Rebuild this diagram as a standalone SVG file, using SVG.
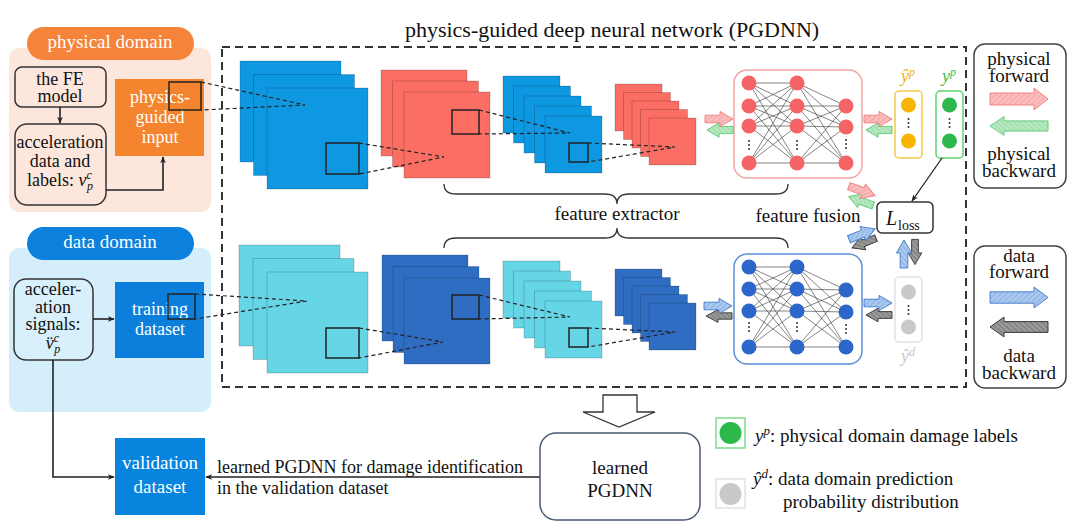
<svg xmlns="http://www.w3.org/2000/svg" width="1080" height="532" viewBox="0 0 1080 532">
<style>
text{font-family:"Liberation Serif","Times New Roman",serif;fill:#111}
.t18{font-size:18px}
.t19{font-size:19px}
.w{fill:#fff}
.mid{text-anchor:middle}
.it{font-style:italic}
.box{fill:#fde6dc;stroke:#333;stroke-width:1.5}
.dbox{fill:#d8f0fb;stroke:#333;stroke-width:1.5}
.sq{fill:none;stroke:#222;stroke-width:1.5}
.dash{stroke:#222;stroke-width:1.2;stroke-dasharray:4 3;fill:none}
.lb{stroke-opacity:0.18;stroke:#000;stroke-width:1}
.blue{fill:#0f98e2}
.red{fill:#fb6e64}
.cyan{fill:#66d6e7}
.dblue{fill:#2f6dc2}
.nnl{stroke:#333;stroke-width:0.6;fill:none}
.rn{fill:#f56464}
.bn{fill:#2b66c8}
.dot{fill:#333}
.ap{fill:url(#hp);stroke:#f08585;stroke-width:1}
.ag{fill:url(#hg);stroke:#5cc872;stroke-width:1}
.ab{fill:url(#hb);stroke:#4a7fd0;stroke-width:1}
.ak{fill:url(#hk);stroke:#333;stroke-width:1}
.conn{stroke:#222;stroke-width:1.6;fill:none}
.brace{stroke:#333;stroke-width:1.3;fill:none}
</style>
<defs>
<pattern id="hp" width="4" height="4" patternUnits="userSpaceOnUse" patternTransform="rotate(45)"><rect width="4" height="4" fill="#fabcbc"/><line x1="0" y1="0" x2="0" y2="4" stroke="#f39a9a" stroke-width="1.4"/></pattern>
<pattern id="hg" width="4" height="4" patternUnits="userSpaceOnUse" patternTransform="rotate(45)"><rect width="4" height="4" fill="#b5e8bf"/><line x1="0" y1="0" x2="0" y2="4" stroke="#8fd9a0" stroke-width="1.4"/></pattern>
<pattern id="hb" width="4" height="4" patternUnits="userSpaceOnUse" patternTransform="rotate(45)"><rect width="4" height="4" fill="#a9c8ee"/><line x1="0" y1="0" x2="0" y2="4" stroke="#7fa8e0" stroke-width="1.4"/></pattern>
<pattern id="hk" width="4" height="4" patternUnits="userSpaceOnUse" patternTransform="rotate(45)"><rect width="4" height="4" fill="#999"/><line x1="0" y1="0" x2="0" y2="4" stroke="#6a6a6a" stroke-width="1.4"/></pattern>
<path id="sa" d="M-14,-4 H1 V-8 L14,0 L1,8 V4 H-14 Z"/>
<path id="la" d="M-29,-6 H15 V-11 L29,0 L15,11 V6 H-29 Z"/>
<marker id="ah" viewBox="0 0 10 10" refX="9" refY="5" markerWidth="7" markerHeight="7" orient="auto-start-reverse" markerUnits="userSpaceOnUse"><path d="M0,1 L10,5 L0,9 L3,5 Z" fill="#222"/></marker>
</defs>

<!-- title -->
<text x="612" y="37" class="mid" font-size="22">physics-guided deep neural network (PGDNN)</text>

<!-- physical domain -->
<g id="physical-domain">
<rect x="9" y="48" width="202" height="164" rx="10" fill="#fde6dc"/>
<rect x="27" y="27" width="167" height="33" rx="16.5" fill="#f5843a"/>
<text x="110" y="48" class="mid w" font-size="19">physical domain</text>
</g>
<g id="fe-model">
<rect x="15" y="67" width="91" height="40" rx="7" class="box"/>
<text x="60" y="85" class="mid t18">the FE</text>
<text x="60" y="102" class="mid t18">model</text>
</g>
<g id="accel-data">
<rect x="15" y="124" width="91" height="81" rx="12" class="box"/>
<text x="60" y="148" class="mid t18">acceleration</text>
<text x="60" y="167" class="mid t18">data and</text>
<text x="60" y="186" class="mid t18">labels: <tspan class="it">v</tspan><tspan class="it" font-size="12" dy="-7">c</tspan><tspan class="it" font-size="12" dx="-5" dy="11">p</tspan></text>
</g>
<g id="physics-guided-input">
<rect x="115" y="79" width="89" height="77" fill="#f5842e"/>
<text x="160" y="103" class="mid w t18">physics-</text>
<text x="160" y="123" class="mid w t18">guided</text>
<text x="160" y="143" class="mid w t18">input</text>
<rect x="169" y="82" width="32" height="28" class="sq"/>
</g>

<!-- data domain -->
<g id="data-domain">
<rect x="9" y="248" width="202" height="164" rx="10" fill="#d4eefb"/>
<rect x="27" y="227" width="167" height="33" rx="16.5" fill="#0b80dc"/>
<text x="110" y="248" class="mid w" font-size="19">data domain</text>
</g>
<g id="accel-signals">
<rect x="14" y="279" width="79" height="81" rx="12" class="dbox"/>
<text x="53" y="295" class="mid t18">acceler-</text>
<text x="53" y="313" class="mid t18">ation</text>
<text x="53" y="330" class="mid t18">signals:</text>
<text x="53" y="349" class="mid t18"><tspan class="it">v̈</tspan><tspan class="it" font-size="12" dy="-7">c</tspan><tspan class="it" font-size="12" dx="-5" dy="11">p</tspan></text>
</g>
<g id="training-dataset">
<rect x="115" y="282" width="89" height="76" fill="#0b7fdb"/>
<text x="160" y="315" class="mid w t18">training</text>
<text x="160" y="335" class="mid w t18">dataset</text>
<rect x="168" y="294" width="27" height="25" class="sq"/>
</g>

<!-- PGDNN dashed frame -->
<g id="pgdnn">
<rect x="222" y="47" width="744" height="340" fill="none" stroke="#333" stroke-width="2" stroke-dasharray="8 5"/>
</g>

<!-- top CNN -->
<g id="cnn-physical">
<rect x="240" y="61" width="101" height="101" class="blue lb"/>
<rect x="253.5" y="74.5" width="101" height="101" class="blue lb"/>
<rect x="267" y="88" width="101" height="101" class="blue lb"/>
<rect x="326" y="143" width="33" height="31" class="sq"/>
<rect x="381" y="70" width="86" height="86" class="red lb"/>
<rect x="392.5" y="81" width="86" height="86" class="red lb"/>
<rect x="404" y="92" width="86" height="86" class="red lb"/>
<rect x="452" y="110" width="27" height="24" class="sq"/>
<rect x="503" y="76" width="57" height="57" class="blue lb"/>
<rect x="513.5" y="86" width="57" height="57" class="blue lb"/>
<rect x="524" y="96" width="57" height="57" class="blue lb"/>
<rect x="534.5" y="106" width="57" height="57" class="blue lb"/>
<rect x="545" y="116" width="57" height="57" class="blue lb"/>
<rect x="569" y="143" width="19" height="19" class="sq"/>
<rect x="615" y="84" width="47" height="47" class="red lb"/>
<rect x="623.5" y="92.5" width="47" height="47" class="red lb"/>
<rect x="632" y="101" width="47" height="47" class="red lb"/>
<rect x="640.5" y="109.5" width="47" height="47" class="red lb"/>
<rect x="649" y="118" width="47" height="47" class="red lb"/>
</g>

<!-- bottom CNN -->
<g id="cnn-data">
<rect x="239" y="245" width="101" height="101" class="cyan lb"/>
<rect x="253" y="258.5" width="101" height="101" class="cyan lb"/>
<rect x="267" y="272" width="101" height="101" class="cyan lb"/>
<rect x="326" y="328" width="33" height="30" class="sq"/>
<rect x="382" y="255" width="86" height="86" class="dblue lb"/>
<rect x="393" y="266.5" width="86" height="86" class="dblue lb"/>
<rect x="404" y="278" width="86" height="86" class="dblue lb"/>
<rect x="452" y="295" width="27" height="24" class="sq"/>
<rect x="503" y="261" width="57" height="57" class="cyan lb"/>
<rect x="513.5" y="271" width="57" height="57" class="cyan lb"/>
<rect x="524" y="281" width="57" height="57" class="cyan lb"/>
<rect x="534.5" y="291" width="57" height="57" class="cyan lb"/>
<rect x="545" y="301" width="57" height="57" class="cyan lb"/>
<rect x="569" y="328" width="19" height="19" class="sq"/>
<rect x="615" y="269" width="47" height="47" class="dblue lb"/>
<rect x="623.5" y="277.5" width="47" height="47" class="dblue lb"/>
<rect x="632" y="286" width="47" height="47" class="dblue lb"/>
<rect x="640.5" y="294.5" width="47" height="47" class="dblue lb"/>
<rect x="649" y="303" width="47" height="47" class="dblue lb"/>
</g>

<!-- braces and labels -->
<g id="feature-extractor">
<path class="brace" d="M444,184 Q444,194 456,194 H605 Q617,194 617,204 Q617,194 629,194 H776 Q788,194 788,184"/>
<path class="brace" d="M444,248 Q444,238 456,238 H605 Q617,238 617,228 Q617,238 629,238 H776 Q788,238 788,248"/>
<text x="617" y="220" class="mid t19">feature extractor</text>
</g>

<!-- top NN -->
<g id="nn-physical">
<rect x="734" y="70" width="128" height="108" rx="13" fill="#fff" stroke="#f4a3a3" stroke-width="1.5"/>
<path class="nnl" d="M749,83L797,83M749,83L797,106M749,83L797,126M749,83L797,163M749,106L797,83M749,106L797,106M749,106L797,126M749,106L797,163M749,126L797,83M749,126L797,106M749,126L797,126M749,126L797,163M749,163L797,83M749,163L797,106M749,163L797,126M749,163L797,163M797,83L846,106M797,83L846,127M797,83L846,163M797,106L846,106M797,106L846,127M797,106L846,163M797,126L846,106M797,126L846,127M797,126L846,163M797,163L846,106M797,163L846,127M797,163L846,163"/>
<g class="rn">
<circle cx="749" cy="83" r="7.5"/><circle cx="749" cy="106" r="7.5"/><circle cx="749" cy="126" r="7.5"/><circle cx="749" cy="163" r="7.5"/>
<circle cx="797" cy="83" r="7.5"/><circle cx="797" cy="106" r="7.5"/><circle cx="797" cy="126" r="7.5"/><circle cx="797" cy="163" r="7.5"/>
<circle cx="846" cy="106" r="7.5"/><circle cx="846" cy="127" r="7.5"/><circle cx="846" cy="163" r="7.5"/>
</g>
<g class="dot">
<circle cx="749" cy="141" r="1"/><circle cx="749" cy="145" r="1"/><circle cx="749" cy="149" r="1"/>
<circle cx="797" cy="141" r="1"/><circle cx="797" cy="145" r="1"/><circle cx="797" cy="149" r="1"/>
<circle cx="846" cy="140" r="1"/><circle cx="846" cy="144" r="1"/><circle cx="846" cy="148" r="1"/>
</g>
</g>

<!-- bottom NN -->
<g id="nn-data">
<rect x="734" y="254" width="128" height="110" rx="13" fill="#fff" stroke="#5b8fd8" stroke-width="1.5"/>
<path class="nnl" d="M749,267L797,267M749,267L797,289M749,267L797,311M749,267L797,347M749,289L797,267M749,289L797,289M749,289L797,311M749,289L797,347M749,311L797,267M749,311L797,289M749,311L797,311M749,311L797,347M749,347L797,267M749,347L797,289M749,347L797,311M749,347L797,347M797,267L846,290M797,267L846,312M797,267L846,347M797,289L846,290M797,289L846,312M797,289L846,347M797,311L846,290M797,311L846,312M797,311L846,347M797,347L846,290M797,347L846,312M797,347L846,347"/>
<g class="bn">
<circle cx="749" cy="267" r="7.5"/><circle cx="749" cy="289" r="7.5"/><circle cx="749" cy="311" r="7.5"/><circle cx="749" cy="347" r="7.5"/>
<circle cx="797" cy="267" r="7.5"/><circle cx="797" cy="289" r="7.5"/><circle cx="797" cy="311" r="7.5"/><circle cx="797" cy="347" r="7.5"/>
<circle cx="846" cy="290" r="7.5"/><circle cx="846" cy="312" r="7.5"/><circle cx="846" cy="347" r="7.5"/>
</g>
<g class="dot">
<circle cx="749" cy="323" r="1"/><circle cx="749" cy="327" r="1"/><circle cx="749" cy="331" r="1"/>
<circle cx="797" cy="323" r="1"/><circle cx="797" cy="327" r="1"/><circle cx="797" cy="331" r="1"/>
<circle cx="846" cy="325" r="1"/><circle cx="846" cy="329" r="1"/><circle cx="846" cy="333" r="1"/>
</g>
</g>

<!-- output columns -->
<g id="yhat-p">
<rect x="895" y="91" width="27" height="67" rx="4" fill="#fff" stroke="#f5c842" stroke-width="1.5"/>
<circle cx="908.5" cy="105" r="7.5" fill="#f7b500"/>
<circle cx="908.5" cy="141" r="7.5" fill="#f7b500"/>
<g class="dot"><circle cx="908.5" cy="119" r="1"/><circle cx="908.5" cy="123" r="1"/><circle cx="908.5" cy="127" r="1"/></g>
<text x="908" y="82" class="mid it" font-size="18" style="fill:#f0b400">ŷ<tspan font-size="12" dy="-6">p</tspan></text>
</g>
<g id="y-p">
<rect x="936" y="91" width="27" height="67" rx="4" fill="#fff" stroke="#5fd36f" stroke-width="1.5"/>
<circle cx="949.5" cy="105" r="7.5" fill="#2db84b"/>
<circle cx="949.5" cy="141" r="7.5" fill="#2db84b"/>
<g class="dot"><circle cx="949.5" cy="119" r="1"/><circle cx="949.5" cy="123" r="1"/><circle cx="949.5" cy="127" r="1"/></g>
<text x="949" y="82" class="mid it" font-size="18" style="fill:#3cbf50">y<tspan font-size="12" dy="-6">p</tspan></text>
</g>
<g id="yhat-d">
<rect x="895" y="277" width="27" height="65" rx="4" fill="#fff" stroke="#e2e2e2" stroke-width="1.5"/>
<circle cx="908.5" cy="292" r="7.5" fill="#c9c9c9"/>
<circle cx="908.5" cy="327" r="7.5" fill="#c9c9c9"/>
<g class="dot"><circle cx="908.5" cy="306" r="1"/><circle cx="908.5" cy="310" r="1"/><circle cx="908.5" cy="314" r="1"/></g>
<text x="908" y="362" class="mid it" font-size="18" style="fill:#c8c8c8">ŷ<tspan font-size="12" dy="-6">d</tspan></text>
</g>

<g id="loss">
<rect x="877" y="202" width="56" height="31" rx="5" fill="#fff" stroke="#333" stroke-width="1.5"/>
<text x="886" y="225" class="it" font-size="20">L</text>
<text x="898" y="230" font-size="14">loss</text>
</g>
<text x="808" y="222" class="mid t19">feature fusion</text>

<!-- flow block arrows -->
<g id="flow-arrows">
<use href="#sa" class="ag" transform="translate(720,130) scale(-0.93,0.9)"/>
<use href="#sa" class="ap" transform="translate(719,119) scale(1,0.95)"/>
<use href="#sa" class="ag" transform="translate(879,130) scale(-0.93,0.9)"/>
<use href="#sa" class="ap" transform="translate(878,119) scale(1,0.95)"/>
<use href="#sa" class="ak" transform="translate(719,316) scale(-0.93,0.8)"/>
<use href="#sa" class="ab" transform="translate(718,306) scale(1,0.95)"/>
<use href="#sa" class="ak" transform="translate(879,315) scale(-0.93,0.85)"/>
<use href="#sa" class="ab" transform="translate(878,303) scale(1,0.95)"/>
<use href="#sa" class="ag" transform="translate(861,201) rotate(20) scale(-0.93,0.9)"/>
<use href="#sa" class="ap" transform="translate(862,191) rotate(20) scale(1,0.95)"/>
<use href="#sa" class="ak" transform="translate(864,243) rotate(-22) scale(-0.93,0.85)"/>
<use href="#sa" class="ab" transform="translate(862,234) rotate(-22) scale(1,0.95)"/>
<use href="#sa" class="ak" transform="translate(915,252) rotate(90) scale(0.9,0.85)"/>
<use href="#sa" class="ab" transform="translate(904,254) rotate(-90) scale(1,0.95)"/>
</g>

<!-- connectors -->
<g id="connectors">
<line x1="60" y1="107" x2="60" y2="123" class="conn" marker-end="url(#ah)"/>
<polyline points="106,190 163,190 163,157" class="conn" marker-end="url(#ah)"/>
<line x1="93" y1="319" x2="114" y2="319" class="conn" marker-end="url(#ah)"/>
<polyline points="53,360 53,477 114,477" class="conn" marker-end="url(#ah)"/>
<line x1="540" y1="477" x2="206" y2="477" class="conn" marker-end="url(#ah)"/>
<line x1="942" y1="158" x2="912" y2="201" stroke="#222" stroke-width="1.3" marker-end="url(#ah)"/>
<path class="dash" d="M201,82L305,105L201,110 M359,143L444,157L359,174 M479,110L570,133L479,134 M588,143L675,147L588,162"/>
<path class="dash" d="M195,294L307,301L195,319 M359,328L443,342L359,358 M479,295L570,317L479,319 M588,328L675,332L588,347"/>
</g>
<text x="217" y="473" class="t18">learned PGDNN for damage identification</text>
<text x="217" y="494" class="t18">in the validation dataset</text>

<g id="validation-dataset">
<rect x="115" y="438" width="90" height="77" fill="#0784de"/>
<text x="160" y="469" class="mid w t19">validation</text>
<text x="160" y="493" class="mid w t19">dataset</text>
</g>

<g id="big-arrow">
<path d="M603,395 H637 V412 H655 L619,427 L583,412 H603 Z" fill="#fff" stroke="#333" stroke-width="1.3"/>
</g>
<g id="learned-pgdnn">
<rect x="540" y="433" width="160" height="87" rx="16" fill="#fff" stroke="#4a5a70" stroke-width="1.5"/>
<text x="620" y="474" class="mid t19">learned</text>
<text x="620" y="497" class="mid t19">PGDNN</text>
</g>

<!-- bottom legend -->
<g id="legend-yp">
<rect x="716" y="418" width="29" height="30" fill="#fff" stroke="#7ddc8c" stroke-width="1.5"/>
<circle cx="730.5" cy="433" r="11" fill="#2db84b"/>
<text x="755" y="442" class="t19"><tspan class="it">y</tspan><tspan class="it" font-size="13" dy="-7">p</tspan><tspan dy="7">: physical domain damage labels</tspan></text>
</g>
<g id="legend-yd">
<rect x="716" y="479" width="29" height="29" fill="#fff" stroke="#e2e2e2" stroke-width="1.5"/>
<circle cx="730.5" cy="494" r="11" fill="#c9c9c9"/>
<text x="753" y="485" class="t19"><tspan class="it">ŷ</tspan><tspan class="it" font-size="13" dy="-7">d</tspan><tspan dy="7">: data domain prediction</tspan></text>
<text x="783" y="508" class="t19">probability distribution</text>
</g>

<!-- right legends -->
<g id="legend-physical">
<rect x="974" y="44" width="92" height="144" rx="11" fill="#fff" stroke="#444" stroke-width="1.5"/>
<text x="1019" y="65" class="mid t19">physical</text>
<text x="1019" y="82" class="mid t19">forward</text>
<use href="#la" class="ap" transform="translate(1019,99)"/>
<use href="#la" class="ag" transform="translate(1019,126) scale(-1,0.85)"/>
<text x="1019" y="160" class="mid t19">physical</text>
<text x="1019" y="177" class="mid t19">backward</text>
</g>
<g id="legend-data">
<rect x="974" y="246" width="92" height="142" rx="11" fill="#fff" stroke="#444" stroke-width="1.5"/>
<text x="1019" y="262" class="mid t19">data</text>
<text x="1019" y="278" class="mid t19">forward</text>
<use href="#la" class="ab" transform="translate(1019,297.5) scale(1,0.95)"/>
<use href="#la" class="ak" transform="translate(1019,327) scale(-1,0.9)"/>
<text x="1019" y="362" class="mid t19">data</text>
<text x="1019" y="379" class="mid t19">backward</text>
</g>
</svg>
